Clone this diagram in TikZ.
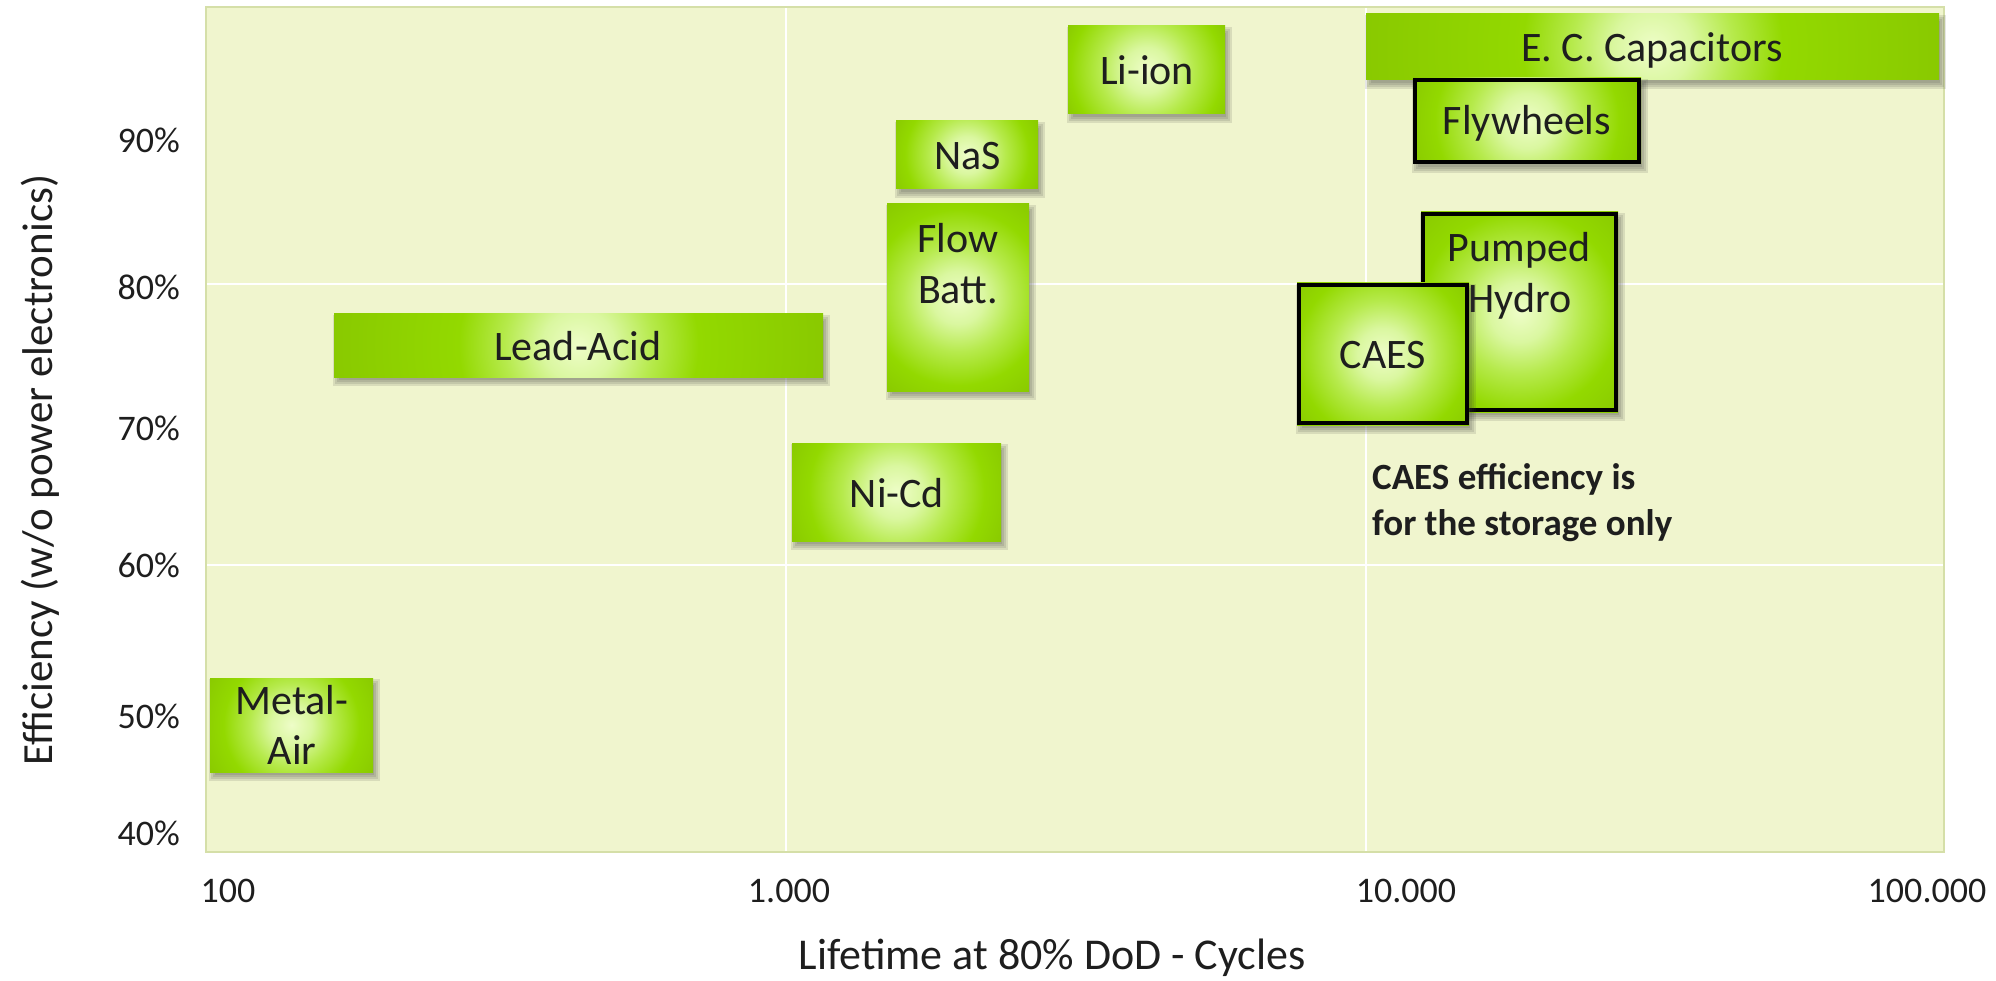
\documentclass[tikz,border=0pt]{standalone}
\usepackage{fontspec}
\setmainfont{Carlito}
\definecolor{plotbg}{HTML}{F0F5CE}
\definecolor{plotborder}{HTML}{D5DFA8}
\definecolor{boxg}{HTML}{93D900}
\definecolor{boxd}{HTML}{89C900}
\definecolor{glowa}{HTML}{EEFDC8}
\definecolor{glowb}{HTML}{DAF7A0}
\definecolor{glowc}{HTML}{B6EA4C}
\definecolor{textc}{HTML}{1E1E1E}
\definecolor{shadowc}{HTML}{3A3A3A}
\newcommand{\boxfont}{\fontsize{42}{50}\selectfont}
\newcommand{\tickfont}{\fontsize{36}{43}\selectfont}
\newcommand{\titlefont}{\fontsize{43}{52}\selectfont}
\newcommand{\xtitlefont}{\fontsize{44}{52}\selectfont}
\newcommand{\notefont}{\fontsize{37}{46}\selectfont\bfseries}
% name, x1, y1, x2, y2, glow radius
\newcommand{\gbox}[6]{%
  \foreach \e in {-2,0,2,4}{\fill[shadowc,opacity=0.13] ({#2+3-\e},{#3+5-\e}) rectangle ({#4+3+\e},{#5+5+\e});}
  \pgfmathsetmacro{\gbcx}{(#2+#4)/2}%
  \pgfmathsetmacro{\gbcy}{(#3+#5)/2}%
  \pgfmathsetmacro{\gbR}{100*sqrt(((#4-#2)/200)^2+((#5-#3)/200)^2)+2}%
  \pgfmathsetmacro{\gbk}{min(24,25*#6/\gbR)}%
  \pgfmathsetmacro{\gba}{0.3*\gbk}%
  \pgfmathsetmacro{\gbb}{0.62*\gbk}%
  \edef\gbtmp{\noexpand\pgfdeclareradialshading{glow#1}{\noexpand\pgfpoint{0bp}{0bp}}{color(0bp)=(glowa); color(\gba bp)=(glowb); color(\gbb bp)=(glowc); color(\gbk bp)=(boxg); color(25bp)=(boxd); color(50bp)=(boxd)}}%
  \gbtmp
  \begin{scope}
    \clip (#2,#3) rectangle (#4,#5);
    \shade[shading=glow#1] (\gbcx,\gbcy) circle[radius=\gbR];
  \end{scope}
  \coordinate (#1) at (\gbcx,\gbcy);
}
\newcommand{\gboxb}[6]{%
  \gbox{#1}{#2}{#3}{#4}{#5}{#6}
  \draw[black,line width=4] ({#2+2},{#3+2}) rectangle ({#4-2},{#5-2});
}
\tikzset{
  lbl/.style={font=\boxfont, text=textc, inner sep=0, anchor=base},
  tick/.style={font=\tickfont, text=textc, inner sep=0},
  axtitle/.style={font=\titlefont, text=textc, inner sep=0, anchor=base},
  note/.style={font=\notefont, text=textc, inner sep=0, anchor=base west},
  grid line/.style={white, line width=2}
}
\begin{document}
\begin{tikzpicture}[x=1pt,y=-1pt]
\useasboundingbox (0,0) rectangle (1996,981);
% plot area
\fill[plotbg] (206,7) rectangle (1944,852);
\coordinate (g1t) at (786,7); \coordinate (g1b) at (786,852);
\coordinate (g2t) at (1366,7); \coordinate (g2b) at (1366,852);
\coordinate (h1l) at (206,284); \coordinate (h1r) at (1944,284);
\coordinate (h2l) at (206,565); \coordinate (h2r) at (1944,565);
\draw[grid line] (g1t) -- (g1b);
\draw[grid line] (g2t) -- (g2b);
\draw[grid line] (h1l) -- (h1r);
\draw[grid line] (h2l) -- (h2r);
\draw[plotborder, line width=2] (206,7) rectangle (1944,852);

% boxes
\gbox{bLead}{334}{314}{823}{377}{120}
\node[lbl] (tLead) at (578,360) {Lead-Acid};
\gbox{bMetal}{210}{678}{373}{772}{68}
\node[lbl] (tMetal1) at (292,714) {Metal-};
\node[lbl] (tMetal2) at (292,764) {Air};
\gbox{bNiCd}{792}{443}{1001}{541}{88}
\node[lbl] (tNiCd) at (897,507) {Ni-Cd};
\gbox{bFlow}{887}{204}{1029}{391}{88}
\node[lbl] (tFlow1) at (958,253) {Flow};
\node[lbl] (tFlow2) at (958,304) {Batt.};
\gbox{bNaS}{896}{121}{1038}{189}{62}
\node[lbl] (tNaS) at (968,170) {NaS};
\gbox{bLi}{1068}{26}{1225}{114}{76}
\node[lbl] (tLi) at (1147,85) {Li-ion};
\gbox{bECC}{1366}{14}{1939}{80}{130}
\node[lbl] (tECC) at (1652,62) {E. C. Capacitors};
\gboxb{bFly}{1413}{78}{1641}{164}{92}
\node[lbl] (tFly) at (1527,135) {Flywheels};
\gboxb{bPH}{1421}{212}{1618}{412}{100}
\node[lbl] (tPH1) at (1519,262) {Pumped};
\node[lbl] (tPH2) at (1520,313) {Hydro};
\gboxb{bCAES}{1297}{283}{1469}{425}{86}
\node[lbl] (tCAES) at (1383,368) {CAES};

% note
\node[note] (n1) at (1372,489) {CAES efficiency is};
\node[note] (n2) at (1372,535) {for the storage only};

% y ticks
\node[tick, anchor=base east] (y90) at (180,153) {90\%};
\node[tick, anchor=base east] (y80) at (180,300) {80\%};
\node[tick, anchor=base east] (y70) at (180,440) {70\%};
\node[tick, anchor=base east] (y60) at (180,577) {60\%};
\node[tick, anchor=base east] (y50) at (180,728) {50\%};
\node[tick, anchor=base east] (y40) at (180,845) {40\%};
% x ticks
\node[tick, anchor=base] (x100) at (228,902) {100};
\node[tick, anchor=base] (x1k) at (789,902) {1.000};
\node[tick, anchor=base] (x10k) at (1406,902) {10.000};
\node[tick, anchor=base] (x100k) at (1927,902) {100.000};
% titles
\node[axtitle, font=\xtitlefont] (xt) at (1052,969) {Lifetime at 80\% DoD - Cycles};
\node[axtitle, rotate=90] (yt) at (52,470) {Efficiency (w/o power electronics)};
\end{tikzpicture}
\end{document}
